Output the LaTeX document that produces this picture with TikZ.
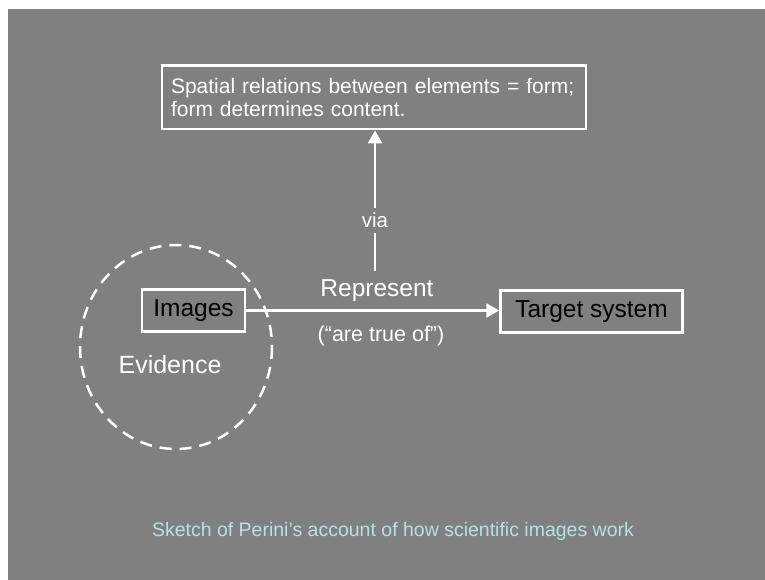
\documentclass[tikz,border=0pt]{standalone}
\usepackage{fontspec}
\setmainfont{Liberation Sans}
\usetikzlibrary{arrows.meta}

\definecolor{slidegray}{RGB}{128,128,128}
\definecolor{capcyan}{RGB}{178,226,232}

\tikzset{
  whitebox/.style={draw=white, line width=2.5pt, inner sep=0pt},
  label/.style={text=white, anchor=base, inner sep=0pt},
}

\begin{document}
\begin{tikzpicture}[x=1pt,y=-1pt,>={Triangle[length=13pt,width=14pt]},line width=2.5pt]

  \useasboundingbox (0,0) rectangle (765,580);
  \fill[slidegray] (8,9) rectangle (765,580);

  \node[whitebox, minimum width=424pt, minimum height=63.5pt, text=white,
        align=left, text width=406pt, font=\fontsize{21}{23.5}\selectfont]
        (form) at (374,97.5) {Spatial relations between elements = form;\\form determines content.};

  \node[whitebox, minimum width=103pt, minimum height=42pt,
        font=\fontsize{24.5}{28}\selectfont] (images) at (193.5,310.5) {Images};
  \node[whitebox, minimum width=182pt, minimum height=42pt,
        font=\fontsize{24.5}{28}\selectfont] (target) at (591.5,311.5) {Target system};

  \draw[white, dashed, dash pattern=on 12pt off 8pt]
        (176,347) ellipse [x radius=96, y radius=102];

  \node[label, font=\fontsize{25}{28}\selectfont] (evidence) at (170,373) {Evidence};
  \node[label, font=\fontsize{24.5}{28}\selectfont] (represent) at (377,296) {Represent};
  \node[label, font=\fontsize{21.5}{25}\selectfont] (truth) at (381,341.5) {(“are true of”)};
  \coordinate (viabase) at (375,271);

  \draw[white,->] (images.east) -- (images.east -| target.west);
  \draw[white,->] (viabase) -- node[pos=0.36, text=white, fill=slidegray, inner sep=5pt,
        font=\fontsize{20.5}{24}\selectfont] (via) {via} (viabase |- form.south);

  \node[label, text=capcyan, font=\fontsize{19.5}{23}\selectfont] (caption) at (393,536)
        {Sketch of Perini’s account of how scientific images work};

\end{tikzpicture}
\end{document}
